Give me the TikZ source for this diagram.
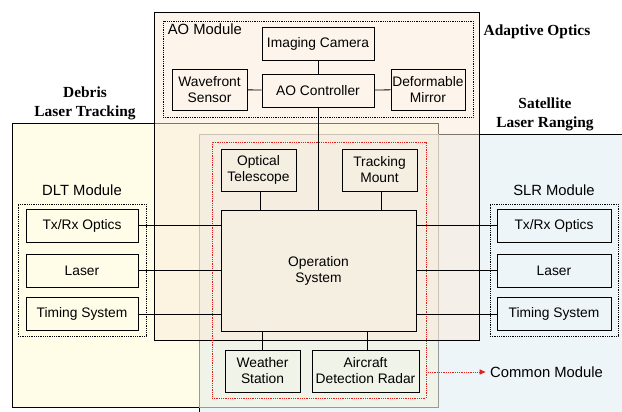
\documentclass[tikz,border=0pt]{standalone}
\usepackage{fontspec}
\setmainfont{Liberation Sans}
\newfontfamily\headfont{Liberation Serif}
\usetikzlibrary{arrows.meta,positioning}
\definecolor{aofill}{HTML}{FBEBD9}
\definecolor{aobox}{HTML}{FDF5EC}
\definecolor{dltfill}{HTML}{FFFDE8}
\definecolor{slrfill}{HTML}{EEF5F9}
\definecolor{comfill}{HTML}{F0F3E8}
\definecolor{osfill}{HTML}{F5EFE2}
\definecolor{comred}{HTML}{E0201C}

\begin{document}
\begin{tikzpicture}[
  x=1pt, y=-1pt,
  box/.style={draw, fill=#1, align=center, inner sep=0pt, line width=0.8pt,
    font=\fontsize{13.8}{16}\selectfont},
  modbox/.style={draw, densely dotted, line width=0.8pt, inner sep=0pt},
  region/.style={draw, line width=0.8pt},
  title/.style={align=center, font=\headfont\bfseries\fontsize{15.4}{19}\selectfont},
  modlabel/.style={font=\fontsize{14.8}{17}\selectfont, inner sep=0pt},
  link/.style={line width=0.8pt},
  comlink/.style={draw=comred, densely dotted, line width=0.8pt, -{Latex[length=2.2mm,width=2mm]}}
]
\useasboundingbox (0,0) rectangle (622,412);
\draw[region, fill=slrfill] (199,134) rectangle (640,430);
\draw[region, fill=dltfill] (12,123) rectangle (438,407);
\draw[region, draw=black!40, fill=comfill] (199,134) rectangle (438,407);
\draw[region, fill=aofill, fill opacity=0.5] (154,12) rectangle (479,340);

\node[title] (aotitle) at (537,32) {Adaptive Optics};
\node[title] (dlttitle) at (85,103) {Debris\\Laser Tracking};
\node[title] (slrtitle) at (545,114) {Satellite\\Laser Ranging};

\node[modbox, minimum width=310, minimum height=96] (aomod) at (318,69) {};
\node[modlabel, anchor=north west] at ([xshift=5pt,yshift=-3pt]aomod.north west) {AO Module};
\node[box=aobox, minimum width=112, minimum height=33] (camera) at (318,43.5) {Imaging Camera};
\node[box=aobox, minimum width=112, minimum height=33] (aoctrl) at (318,90.5) {AO Controller};
\node[box=aobox, minimum width=75, minimum height=41] (wfs) at (209.5,89.5) {Wavefront\\Sensor};
\node[box=aobox, minimum width=74, minimum height=41] (dm) at (428,89.5) {Deformable\\Mirror};

\node[modbox, minimum width=128, minimum height=132] (dltmod) at (82,270) {};
\node[modlabel, above=8pt of dltmod] {DLT Module};
\node[box=dltfill, minimum width=112, minimum height=33] (dlttx) at (82,225.5) {Tx/Rx Optics};
\node[box=dltfill, minimum width=112, minimum height=33] (dltlaser) at (82,270.5) {Laser};
\node[box=dltfill, minimum width=112, minimum height=33] (dlttime) at (82,314) {Timing System};

\node[modbox, minimum width=128, minimum height=132] (slrmod) at (554,270) {};
\node[modlabel, above=8pt of slrmod] {SLR Module};
\node[box=slrfill, minimum width=114, minimum height=33] (slrtx) at (554,225.5) {Tx/Rx Optics};
\node[box=slrfill, minimum width=114, minimum height=33] (slrlaser) at (554,270.5) {Laser};
\node[box=slrfill, minimum width=114, minimum height=33] (slrtime) at (554,314) {Timing System};

\node[modbox, draw=comred, minimum width=214, minimum height=256] (common) at (319,270) {};
\node[box=osfill, minimum width=75, minimum height=42] (telescope) at (258.5,170) {Optical\\Telescope};
\node[box=osfill, minimum width=75, minimum height=42] (mount) at (379.5,170) {Tracking\\Mount};
\node[box=osfill, minimum width=195, minimum height=121] (os) at (318.5,270.5) {Operation\\System};
\node[box=comfill, minimum width=75, minimum height=42] (weather) at (262.5,371) {Weather\\Station};
\node[box=comfill, minimum width=107, minimum height=42] (radar) at (365.5,371) {Aircraft\\Detection Radar};
\coordinate (comtip) at (486,372);
\node[modlabel, anchor=west] (comlabel) at ([xshift=4pt]comtip) {Common Module};

\draw[link] (camera) -- (aoctrl);
\draw[link] (wfs) -- (aoctrl);
\draw[link] (aoctrl) -- (dm);
\draw[link] (aoctrl.south) -- (aoctrl.south |- os.north);
\draw[link] ([xshift=2pt]telescope.south) -- ([xshift=2pt]telescope.south |- os.north);
\draw[link] ([xshift=2pt]mount.south) -- ([xshift=2pt]mount.south |- os.north);
\draw[link] (weather.north) -- (weather.north |- os.south);
\draw[link] ([xshift=2pt]radar.north) -- ([xshift=2pt]radar.north |- os.south);
\draw[link] (dlttx.east) -- (dlttx.east -| os.west);
\draw[link] (dltlaser.east) -- (dltlaser.east -| os.west);
\draw[link] (dlttime.east) -- (dlttime.east -| os.west);
\draw[link] (slrtx.west) -- (slrtx.west -| os.east);
\draw[link] (slrlaser.west) -- (slrlaser.west -| os.east);
\draw[link] (slrtime.west) -- (slrtime.west -| os.east);
\draw[comlink] (comtip -| common.east) -- (comtip);
\end{tikzpicture}
\end{document}
